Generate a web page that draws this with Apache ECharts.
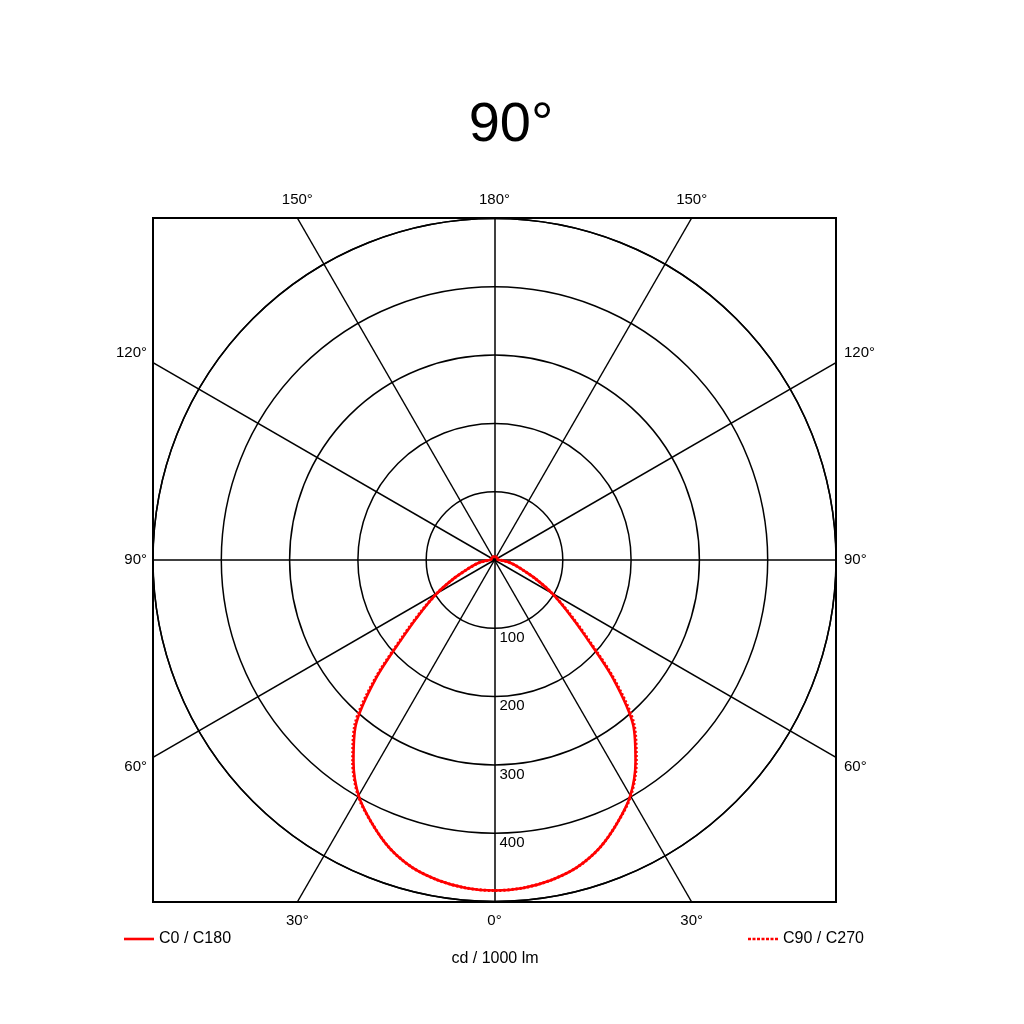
<!DOCTYPE html>
<html><head><meta charset="utf-8">
<script src="https://cdn.jsdelivr.net/npm/echarts@6/dist/echarts.min.js"></script>
<style>html,body{margin:0;padding:0;background:#fff}#c{width:1024px;height:1024px}</style>
</head><body><div id="c"></div>
<script>
// ---- data ----
const gammaAngles = [0,5,10,15,20,25,30,35,40,45,50,55,60,65,70,75,80,85,90,95,100,105,110,115,120,125,130,135,140,145,150,155,160,165,170,175,180];
const c0c180 = [484,482,476,466,449,425,398,360,316,246,174,129,97,68,46,33,23,13,7,5,5,5,5,5,5,5,5,5,5,5,5,5,5,5,5,5,5];
const c90c270 = [484,482,476,466,449,425,399,362,319,249,177,131,97,68,46,33,23,13,7,5,5,5,5,5,5,5,5,5,5,5,5,5,5,5,5,5,5];
const spokeAngles = [0,30,60,90,120,150,180];
const ringValues = [100,200,300,400];
const seriesNames = ['C0 / C180','C90 / C270'];
const titleText = '90°';
const unitText = 'cd / 1000 lm';

const F = 'Liberation Sans, Arial, sans-serif';
const RMAX = 500;
const INK = '#000';

function polarData(vals){
  const left = gammaAngles.map((g,i)=>[vals[i], g]).reverse();
  const right = gammaAngles.map((g,i)=>[vals[i], 360-g]);
  return left.concat(right);
}

const spokes = [];
spokeAngles.forEach(g=>{
  const sides = (g===0||g===180)?[1]:[1,-1];
  sides.forEach(s=>{
    const rad = g*Math.PI/180;
    let sx = s*Math.sin(rad), sy = -Math.cos(rad);
    if (Math.abs(sx)<1e-9) sx = 0;
    if (Math.abs(sy)<1e-9) sy = 0;
    const t = RMAX/Math.max(Math.abs(sx),Math.abs(sy));
    spokes.push({g, s, x: sx*t, y: sy*t});
  });
});

const spokeLabels = spokes.map(p=>{
  let lab;
  if (Math.abs(p.y) >= RMAX-0.01) {
    lab = {position: p.y>0?'top':'bottom', distance: 11};
  } else {
    lab = {position: p.s>0?'right':'left', distance: p.s>0?8:6,
           offset:[0, p.y>0.01?-9.5:(p.y<-0.01?9.5:0)]};
  }
  return {value:[p.x,p.y], label:Object.assign({show:true, formatter: p.g+'°', color:INK, opacity:1, fontSize:15, fontFamily:F}, lab)};
});

const ringLabels = ringValues.map(v=>({value:[0,-v], label:{show:true, formatter:String(v), color:INK, opacity:1, fontSize:15, fontFamily:F, position:[5,2], align:'left', verticalAlign:'top'}}));

// legend icons (line samples)
const solidIcon = 'path://M0,0h30v2.6h-30z';
let dotted = 'path://';
for (let i=0;i<7;i++){ dotted += 'M'+(i*4.5)+',0h3v2.6h-3z'; }

const chart = echarts.init(document.getElementById('c'), null, {renderer:'canvas'});
chart.setOption({
  backgroundColor:'#fff',
  animation:false,
  textStyle:{fontFamily:F, color:INK},
  graphic:[
    {type:'text', x:511, y:126, style:{text:titleText, fill:INK, font:'56px '+F, textAlign:'center', textVerticalAlign:'middle'}},
    {type:'text', x:495, y:959, style:{text:unitText, fill:INK, font:'16px '+F, textAlign:'center', textVerticalAlign:'middle'}}
  ],
  legend:[
    {data:[{name:seriesNames[0], icon:solidIcon}], left:124, top:931, padding:0, itemWidth:30, itemHeight:2.6, itemGap:6,
     textStyle:{fontSize:16, color:INK, fontFamily:F}, selectedMode:false},
    {data:[{name:seriesNames[1], icon:dotted}], left:748, top:931, padding:0, itemWidth:30, itemHeight:2.6, itemGap:6,
     textStyle:{fontSize:16, color:INK, fontFamily:F}, selectedMode:false}
  ],
  grid:{left:153, top:218, width:683, height:684, show:true, borderColor:INK, borderWidth:2, backgroundColor:'transparent', containLabel:false},
  xAxis:{type:'value', min:-RMAX, max:RMAX, show:false},
  yAxis:{type:'value', min:-RMAX, max:RMAX, show:false},
  polar:{center:[494.5,560], radius:341.5},
  angleAxis:{type:'value', min:0, max:360, startAngle:270, clockwise:true,
    axisLine:{show:true, lineStyle:{color:INK, width:1.5}},
    axisTick:{show:false}, axisLabel:{show:false}, splitLine:{show:false}},
  radiusAxis:{type:'value', min:0, max:RMAX, interval:100,
    axisLine:{show:false}, axisTick:{show:false}, axisLabel:{show:false},
    splitLine:{show:true, lineStyle:{color:INK, width:1.5}}},
  series:[
    {type:'lines', coordinateSystem:'cartesian2d', z:3, silent:true,
     lineStyle:{color:INK, width:1.5, opacity:1, curveness:0},
     data: spokes.map(p=>({coords:[[0,0],[p.x,p.y]]}))},
    {type:'scatter', coordinateSystem:'cartesian2d', z:4, symbolSize:0, silent:true,
     itemStyle:{color:INK, opacity:1},
     data: spokeLabels},
    {type:'scatter', coordinateSystem:'cartesian2d', z:4, symbolSize:0, silent:true,
     itemStyle:{color:INK, opacity:1},
     data: ringLabels},
    {name:seriesNames[1], type:'line', coordinateSystem:'polar', z:9, symbol:'none', smooth:0.3,
     lineStyle:{color:'#ff0000', width:3, type:[2,2]}, itemStyle:{color:'#ff0000'},
     data: polarData(c90c270)},
    {name:seriesNames[0], type:'line', coordinateSystem:'polar', z:10, symbol:'none', smooth:0.3,
     lineStyle:{color:'#ff0000', width:2.6, type:'solid'}, itemStyle:{color:'#ff0000'},
     data: polarData(c0c180)}
  ]
});
</script></body></html>
